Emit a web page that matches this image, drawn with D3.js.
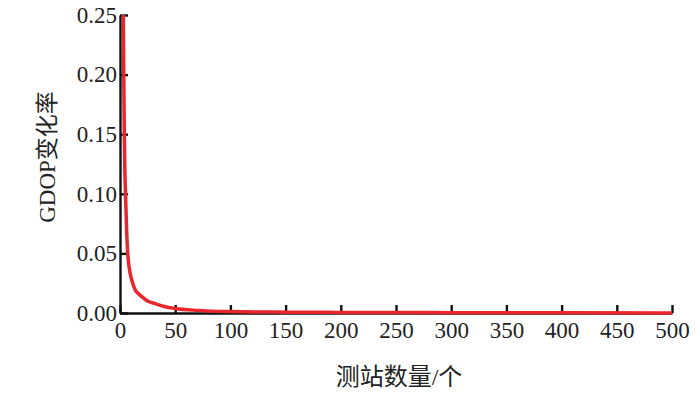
<!DOCTYPE html>
<html>
<head>
<meta charset="utf-8">
<script src="https://cdn.jsdelivr.net/npm/d3@7"></script>
<style>
  body { margin: 0; background: #fff; }
  .axis text { font-family: "Liberation Serif", "Times New Roman", serif; font-size: 23px; fill: #222; }
  .axis path, .axis line { stroke: #111; stroke-width: 2.4; }
  .label { font-family: "Liberation Serif", "Noto Sans CJK SC", serif; font-size: 23px; fill: #222; }
</style>
</head>
<body>
<div id="chart"></div>
<script>
// station count vs GDOP change rate
var stations = [3, 3.4, 3.9, 4.4, 5, 6, 7, 8.5, 10, 11.5, 14, 17, 20, 25, 32, 40, 50, 70, 100, 150, 200, 300, 400, 500];
var gdopRate = [0.25, 0.20, 0.15, 0.12, 0.10, 0.07, 0.05, 0.037, 0.030, 0.025, 0.019, 0.016, 0.0135, 0.010, 0.0078, 0.0055, 0.0038, 0.0022, 0.0012, 0.0007, 0.0005, 0.0003, 0.0002, 0.0001];
var xTicks = [0, 50, 100, 150, 200, 250, 300, 350, 400, 450, 500];
var yTicks = [0, 0.05, 0.10, 0.15, 0.20, 0.25];

var w = 700, h = 396;
var padLeft = 120, padRight = 672, padTop = 15, padBottom = 313;

var svg = d3.select("#chart")
    .append("svg")
    .attr("width", w)
    .attr("height", h);

var x = d3.scaleLinear().domain([0, 500]).range([padLeft, padRight]);
var y = d3.scaleLinear().domain([0, 0.25]).range([padBottom, padTop]);

// x axis, ticks point inward
svg.append("g")
    .attr("class", "axis")
    .attr("transform", "translate(0," + padBottom + ")")
    .call(d3.axisBottom(x).tickValues(xTicks).tickSize(-8).tickSizeOuter(0).tickPadding(9).tickFormat(d3.format("d")))
    .selectAll("text").attr("dy", "0.71em");

// y axis
svg.append("g")
    .attr("class", "axis")
    .attr("transform", "translate(" + padLeft + ",0)")
    .call(d3.axisLeft(y).tickValues(yTicks).tickSize(-8).tickSizeOuter(0).tickPadding(3).tickFormat(d3.format(".2f")));

var data = stations.map(function (d, i) { return { n: d, v: gdopRate[i] }; });

svg.append("path")
    .datum(data)
    .attr("fill", "none")
    .attr("stroke", "#e8262b")
    .attr("stroke-width", 3.5)
    .attr("d", d3.line()
        .x(function (d) { return x(d.n); })
        .y(function (d) { return y(d.v); })
        .curve(d3.curveMonotoneX));

// axis labels
svg.append("text")
    .attr("class", "label")
    .attr("x", 399)
    .attr("y", 385)
    .attr("text-anchor", "middle")
    .style("font-size", "24px")
    .text("测站数量/个");

svg.append("text")
    .attr("class", "label")
    .attr("transform", "translate(55,157) rotate(-90)")
    .attr("text-anchor", "middle")
    .text("GDOP变化率");
</script>
</body>
</html>
